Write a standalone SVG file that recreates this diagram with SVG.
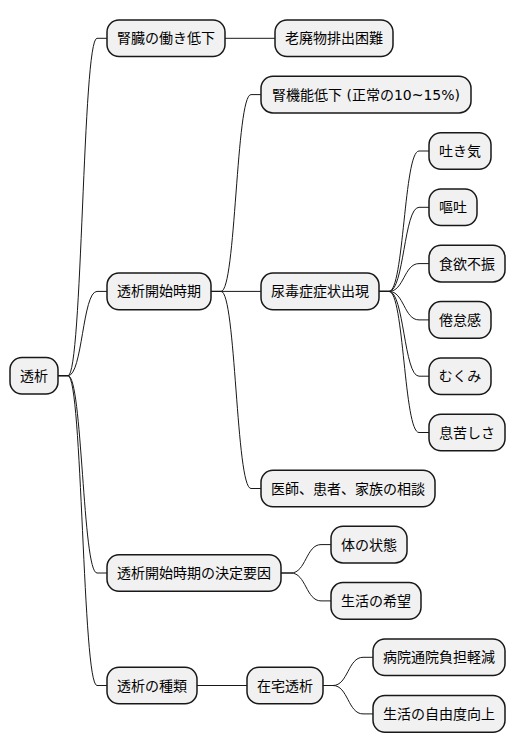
<svg xmlns="http://www.w3.org/2000/svg" width="516" height="752" viewBox="0 0 516 752">
<style>
.n rect{fill:#F1F1F1;stroke:#181818;stroke-width:1.5}
.n text{font-family:"DejaVu Sans","Noto Sans CJK JP",sans-serif;font-size:14px;fill:#000;text-anchor:middle}
#connectors path{fill:none;stroke:#181818;stroke-width:1}
</style>
<rect width="516" height="752" fill="#FFFFFF"/>
<g id="connectors">
<path d="M58 375.7 L68 375.7 C82.5 375.7 82.5 38.3 97 38.3 L107 38.3"/>
<path d="M58 375.7 L68 375.7 C82.5 375.7 82.5 291.4 97 291.4 L107 291.4"/>
<path d="M58 375.7 L68 375.7 C82.5 375.7 82.5 573 97 573 L107 573"/>
<path d="M58 375.7 L68 375.7 C82.5 375.7 82.5 685.5 97 685.5 L107 685.5"/>
<path d="M225 38.3 L275 38.3"/>
<path d="M211 291.4 L221 291.4 C236 291.4 236 94.6 251 94.6 L261 94.6"/>
<path d="M211 291.4 L261 291.4"/>
<path d="M211 291.4 L221 291.4 C236 291.4 236 488.5 251 488.5 L261 488.5"/>
<path d="M379 291.4 L389 291.4 C404 291.4 404 151 419 151 L429 151"/>
<path d="M379 291.4 L389 291.4 C404 291.4 404 207.3 419 207.3 L429 207.3"/>
<path d="M379 291.4 L389 291.4 C404 291.4 404 263.6 419 263.6 L429 263.6"/>
<path d="M379 291.4 L389 291.4 C404 291.4 404 319.9 419 319.9 L429 319.9"/>
<path d="M379 291.4 L389 291.4 C404 291.4 404 376.2 419 376.2 L429 376.2"/>
<path d="M379 291.4 L389 291.4 C404 291.4 404 432.5 419 432.5 L429 432.5"/>
<path d="M281 573 L291 573 C306 573 306 544.6 321 544.6 L331 544.6"/>
<path d="M281 573 L291 573 C306 573 306 600.9 321 600.9 L331 600.9"/>
<path d="M197 685.5 L247 685.5"/>
<path d="M323 685.5 L333 685.5 C348 685.5 348 657.3 363 657.3 L373 657.3"/>
<path d="M323 685.5 L333 685.5 C348 685.5 348 713.9 363 713.9 L373 713.9"/>
</g>
<g id="root" class="n"><rect x="10" y="357.4" width="48" height="36.6" rx="12"/><text x="34" y="380.7">透析</text></g>
<g id="n1" class="n"><rect x="107" y="20" width="118" height="36.6" rx="12"/><text x="166" y="43.3">腎臓の働き低下</text></g>
<g id="n1a" class="n"><rect x="275" y="20" width="118" height="36.6" rx="12"/><text x="334" y="43.3">老廃物排出困難</text></g>
<g id="n2" class="n"><rect x="107" y="273.1" width="104" height="36.6" rx="12"/><text x="159" y="296.4">透析開始時期</text></g>
<g id="n2a" class="n"><rect x="261" y="76.3" width="210" height="36.6" rx="12"/><text x="366" y="99.6">腎機能低下 (正常の10~15%)</text></g>
<g id="n2b" class="n"><rect x="261" y="273.1" width="118" height="36.6" rx="12"/><text x="320" y="296.4">尿毒症症状出現</text></g>
<g id="n2b1" class="n"><rect x="429" y="132.7" width="62" height="36.6" rx="12"/><text x="460" y="156">吐き気</text></g>
<g id="n2b2" class="n"><rect x="429" y="189" width="48" height="36.6" rx="12"/><text x="453" y="212.3">嘔吐</text></g>
<g id="n2b3" class="n"><rect x="429" y="245.3" width="76" height="36.6" rx="12"/><text x="467" y="268.6">食欲不振</text></g>
<g id="n2b4" class="n"><rect x="429" y="301.6" width="62" height="36.6" rx="12"/><text x="460" y="324.9">倦怠感</text></g>
<g id="n2b5" class="n"><rect x="429" y="357.9" width="62" height="36.6" rx="12"/><text x="460" y="381.2">むくみ</text></g>
<g id="n2b6" class="n"><rect x="429" y="414.2" width="76" height="36.6" rx="12"/><text x="467" y="437.5">息苦しさ</text></g>
<g id="n2c" class="n"><rect x="261" y="470.2" width="174" height="36.6" rx="12"/><text x="348" y="493.5">医師、患者、家族の相談</text></g>
<g id="n3" class="n"><rect x="107" y="554.7" width="174" height="36.6" rx="12"/><text x="194" y="578">透析開始時期の決定要因</text></g>
<g id="n3a" class="n"><rect x="331" y="526.3" width="76" height="36.6" rx="12"/><text x="369" y="549.6">体の状態</text></g>
<g id="n3b" class="n"><rect x="331" y="582.6" width="90" height="36.6" rx="12"/><text x="376" y="605.9">生活の希望</text></g>
<g id="n4" class="n"><rect x="107" y="667.2" width="90" height="36.6" rx="12"/><text x="152" y="690.5">透析の種類</text></g>
<g id="n4a" class="n"><rect x="247" y="667.2" width="76" height="36.6" rx="12"/><text x="285" y="690.5">在宅透析</text></g>
<g id="n4a1" class="n"><rect x="373" y="639" width="132" height="36.6" rx="12"/><text x="439" y="662.3">病院通院負担軽減</text></g>
<g id="n4a2" class="n"><rect x="373" y="695.6" width="132" height="36.6" rx="12"/><text x="439" y="718.9">生活の自由度向上</text></g>
</svg>
